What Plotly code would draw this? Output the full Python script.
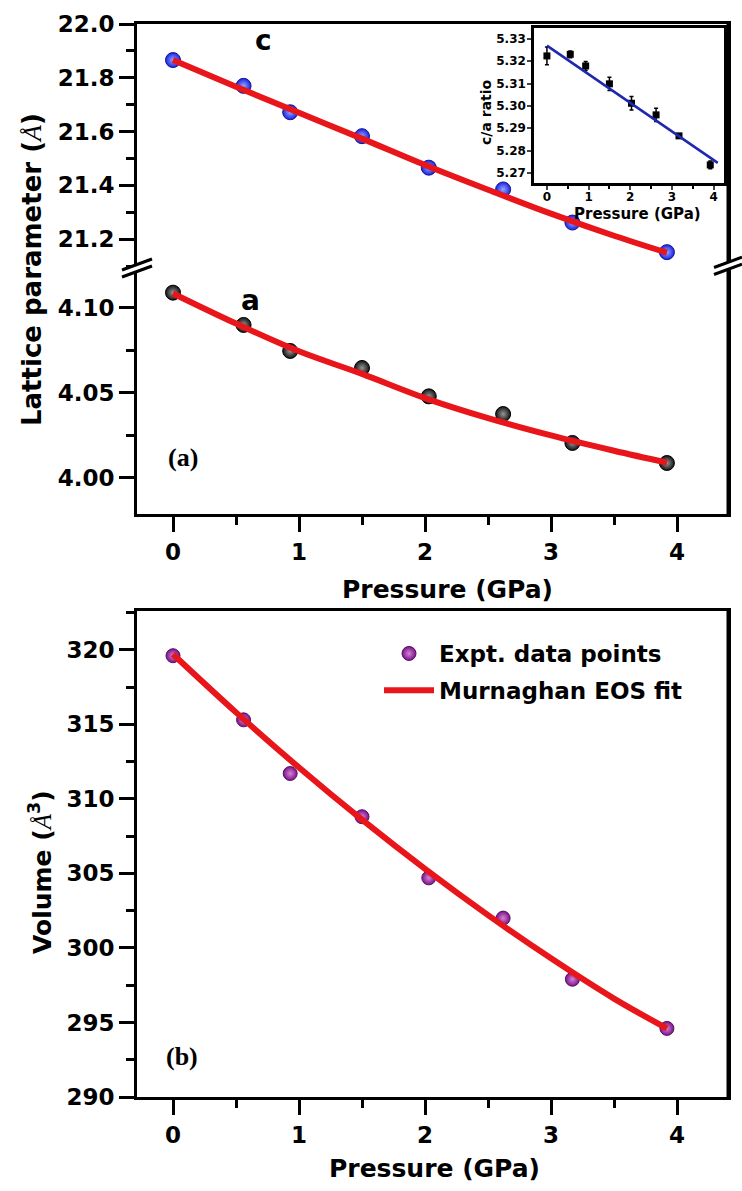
import plotly.graph_objects as go

# ---------------- data ----------------
pressure = [0.0, 0.56, 0.93, 1.50, 2.03, 2.62, 3.17, 3.92]
c_param = [21.866, 21.770, 21.672, 21.583, 21.466, 21.385, 21.262, 21.152]
a_param = [4.1090, 4.0900, 4.0747, 4.0647, 4.0480, 4.0376, 4.0206, 4.0088]
volume = [319.6, 315.3, 311.7, 308.8, 304.7, 302.0, 297.9, 294.6]
ca_ratio = [5.3224, 5.3231, 5.3179, 5.3099, 5.3012, 5.2960, 5.2866, 5.2736]
ca_err = [0.0040, 0.0015, 0.0020, 0.0030, 0.0030, 0.0030, 0.0010, 0.0017]

fit_p = [0.0, 0.5, 1.0, 1.5, 2.0, 2.5, 3.0, 3.5, 3.92]
c_fit = [21.866, 21.767, 21.670, 21.574, 21.476, 21.384, 21.295, 21.213, 21.150]
a_fit = [4.1085, 4.0908, 4.0745, 4.0612, 4.0470, 4.0352, 4.0250, 4.0160, 4.0090]
vol_fit = [319.7, 315.8, 312.1, 308.6, 305.3, 302.2, 299.3, 296.6, 294.6]

ca_fit_p = [0.0, 4.1]
ca_fit = [5.3270, 5.2745]

x_ticks = [0, 1, 2, 3, 4]

# ---------------- geometry helpers (page pixels) ----------------
FL, FR, FT, FB = 137, 728, 24, 1097   # plot-area frame in page pixels
W, H = 742, 1191
L, T = FL, FT
R = W - FR
B = H - FB
X0_PX, X_SCALE = 173.0, 126.0          # pixel of P=0 and pixels per GPa


def px(x):
    return (x - FL) / (FR - FL)


def py(y):
    return (FB - y) / (FB - FT)


FONT = "DejaVu Sans"
RED = "rgb(232,22,26)"

fig = go.Figure()

# panel (a) upper: c
fig.add_trace(go.Scatter(
    x=pressure, y=c_param, mode="markers", xaxis="x2", yaxis="y2", showlegend=False,
    marker=dict(size=15, color="rgb(25,35,225)",
                gradient=dict(type="radial", color="rgb(150,165,255)"),
                line=dict(width=1, color="rgb(20,20,150)"))))
fig.add_trace(go.Scatter(
    x=fit_p, y=c_fit, mode="lines", xaxis="x2", yaxis="y2", showlegend=False,
    line=dict(color=RED, width=6, shape="spline")))

# panel (a) lower: a
fig.add_trace(go.Scatter(
    x=pressure, y=a_param, mode="markers", xaxis="x", yaxis="y", showlegend=False,
    marker=dict(size=15, color="rgb(20,20,20)",
                gradient=dict(type="radial", color="rgb(150,150,150)"),
                line=dict(width=1, color="rgb(0,0,0)"))))
fig.add_trace(go.Scatter(
    x=fit_p, y=a_fit, mode="lines", xaxis="x", yaxis="y", showlegend=False,
    line=dict(color=RED, width=6, shape="spline")))

# panel (b): volume
fig.add_trace(go.Scatter(
    x=pressure, y=volume, mode="markers", xaxis="x3", yaxis="y3",
    name="Expt. data points", legendrank=1, legendgroup="g1",
    marker=dict(size=14, color="rgb(120,20,135)",
                gradient=dict(type="radial", color="rgb(215,130,215)"),
                line=dict(width=1, color="rgb(90,15,100)"))))
fig.add_trace(go.Scatter(
    x=fit_p, y=vol_fit, mode="lines", xaxis="x3", yaxis="y3",
    name="Murnaghan EOS fit", legendrank=2, legendgroup="g2",
    line=dict(color=RED, width=6, shape="spline")))

# inset: c/a ratio
fig.add_trace(go.Scatter(
    x=pressure, y=ca_ratio, mode="markers", xaxis="x4", yaxis="y4", showlegend=False,
    marker=dict(symbol="square", size=7, color="black"),
    error_y=dict(type="data", array=ca_err, color="black", thickness=1.5, width=2)))
fig.add_trace(go.Scatter(
    x=ca_fit_p, y=ca_fit, mode="lines", xaxis="x4", yaxis="y4", showlegend=False,
    line=dict(color="rgb(30,40,175)", width=2.5)))

tickfont = dict(family=FONT, size=23, color="black", weight="bold")
common = dict(showgrid=False, zeroline=False, showline=True, linecolor="black",
              linewidth=3, ticks="outside", tickwidth=3, ticklen=15,
              tickcolor="black", tickfont=tickfont)
xrange_main = [(FL - X0_PX) / X_SCALE, (FR - X0_PX) / X_SCALE]
inset_font = dict(family=FONT, size=12, color="black", weight="bold")

fig.update_layout(
    width=W, height=H, margin=dict(l=L, r=R, t=T, b=B),
    paper_bgcolor="white", plot_bgcolor="white",
    xaxis=dict(**common, domain=[0, 1], anchor="y", range=xrange_main,
               tickvals=x_ticks, ticktext=[str(v) for v in x_ticks],
               minor=dict(dtick=0.5, tick0=0, ticks="outside", ticklen=8,
                          tickwidth=3, tickcolor="black")),
    xaxis2=dict(showgrid=False, zeroline=False, showline=True, linecolor="black",
                linewidth=3, domain=[0, 1], anchor="y2", side="top",
                range=xrange_main, showticklabels=False, ticks="", matches="x"),
    yaxis=dict(**common, domain=[py(514), py(268)], anchor="x",
               range=[3.9788, 4.1235], dtick=0.05, tick0=4.0, tickformat=".2f",
               mirror=True,
               minor=dict(dtick=0.025, tick0=4.0, ticks="outside", ticklen=8,
                          tickwidth=3, tickcolor="black")),
    yaxis2=dict(**common, domain=[py(268), 1], anchor="x2",
                range=[21.093, 22.0], dtick=0.2, tick0=21.2, tickformat=".1f",
                mirror=True,
                minor=dict(dtick=0.1, tick0=21.2, ticks="outside", ticklen=8,
                           tickwidth=3, tickcolor="black")),
    xaxis3=dict(**common, domain=[0, 1], anchor="y3", range=xrange_main,
                tickvals=x_ticks, ticktext=[str(v) for v in x_ticks], mirror=True,
                minor=dict(dtick=0.5, tick0=0, ticks="outside", ticklen=8,
                           tickwidth=3, tickcolor="black")),
    yaxis3=dict(**common, domain=[0, py(611)], anchor="x3",
                range=[290, 322.6], dtick=5, tick0=290, mirror=True,
                minor=dict(dtick=2.5, tick0=290, ticks="outside", ticklen=8,
                           tickwidth=3, tickcolor="black")),
    xaxis4=dict(showgrid=False, zeroline=False, showline=True, linecolor="black",
                linewidth=2.5, mirror=True, ticks="outside", ticklen=4, tickwidth=2,
                domain=[px(534), px(724)], anchor="y4", range=[-0.31, 4.25],
                tickvals=x_ticks, ticktext=[str(v) for v in x_ticks],
                tickfont=inset_font, ticklabelstandoff=-3,
                minor=dict(dtick=0.5, tick0=0, ticks="outside", ticklen=3,
                           tickwidth=2, tickcolor="black")),
    yaxis4=dict(showgrid=False, zeroline=False, showline=True, linecolor="black",
                linewidth=2.5, mirror=True, ticks="outside", ticklen=4, tickwidth=2,
                domain=[py(183), py(28)], anchor="x4", range=[5.2655, 5.3349],
                dtick=0.01, tick0=5.27, tickformat=".2f",
                tickfont=inset_font, ticklabelstandoff=-1),
    legend=dict(x=px(379), y=py(632), xanchor="left", yanchor="top",
                bgcolor="rgba(0,0,0,0)", itemwidth=50, tracegroupgap=4,
                font=dict(family=FONT, size=23, color="black", weight="bold")),
    showlegend=True,
)

ann = []


def add_text(text, x, y, size, angle=0, family=FONT, weight="bold"):
    ann.append(dict(text=text, x=px(x), y=py(y), xref="paper", yref="paper",
                    showarrow=False, textangle=angle, xanchor="center",
                    yanchor="middle",
                    font=dict(family=family, size=size, color="black",
                              weight=weight)))


SERIF_A = '<span style="font-family:Liberation Serif;font-weight:normal"><i>Å</i></span>'
add_text("Lattice parameter (" + SERIF_A + ")", 32, 270, 26, angle=-90)
add_text("Volume (" + SERIF_A + "<sup>3</sup>)", 40, 872, 25, angle=-90)
add_text("Pressure (GPa)", 448, 590, 25)
add_text("Pressure (GPa)", 434, 1168, 25)
add_text("c", 263, 40, 28)
add_text("a", 250, 300, 28)
add_text("(a)", 183, 457, 26, family="Liberation Serif")
add_text("(b)", 182, 1056, 26, family="Liberation Serif")
add_text("Pressure (GPa)", 637, 214, 15)
add_text("c/a ratio", 486, 112, 14, angle=-90)
fig.update_layout(annotations=ann)

shapes = []

# explicit right-hand frame edges of both panels
for y_top, y_bot in ((FT, 514), (611, FB)):
    shapes.append(dict(type="line", xref="paper", yref="paper",
                       x0=1, x1=1, y0=py(y_top) + 1.5 / (FB - FT),
                       y1=py(y_bot) - 1.5 / (FB - FT),
                       line=dict(color="black", width=3)))


# axis break marks ("//") on left and right frame edges
def brk(x0, x1, yc):
    slope = -11 / 30
    lo = [(x0, yc + 3.5), (x1, yc + 3.5 + slope * (x1 - x0))]
    up = [(x0, yc - 3.5), (x1, yc - 3.5 + slope * (x1 - x0))]
    path = "M {},{} L {},{} L {},{} L {},{} Z".format(
        px(lo[0][0]), py(lo[0][1]), px(lo[1][0]), py(lo[1][1]),
        px(up[1][0]), py(up[1][1]), px(up[0][0]), py(up[0][1]))
    shapes.append(dict(type="path", path=path, xref="paper", yref="paper",
                       fillcolor="white", line=dict(width=0)))
    for p in (lo, up):
        shapes.append(dict(type="line", xref="paper", yref="paper",
                           x0=px(p[0][0]), y0=py(p[0][1]),
                           x1=px(p[1][0]), y1=py(p[1][1]),
                           line=dict(color="black", width=3)))


brk(122, 152, 273.5)
brk(714, 742, 271)
fig.update_layout(shapes=shapes)

fig.write_html(
    "out.html",
    config={"displayModeBar": False},
    post_script="document.body.style.margin='0';"
                "document.documentElement.style.overflow='hidden';",
)
